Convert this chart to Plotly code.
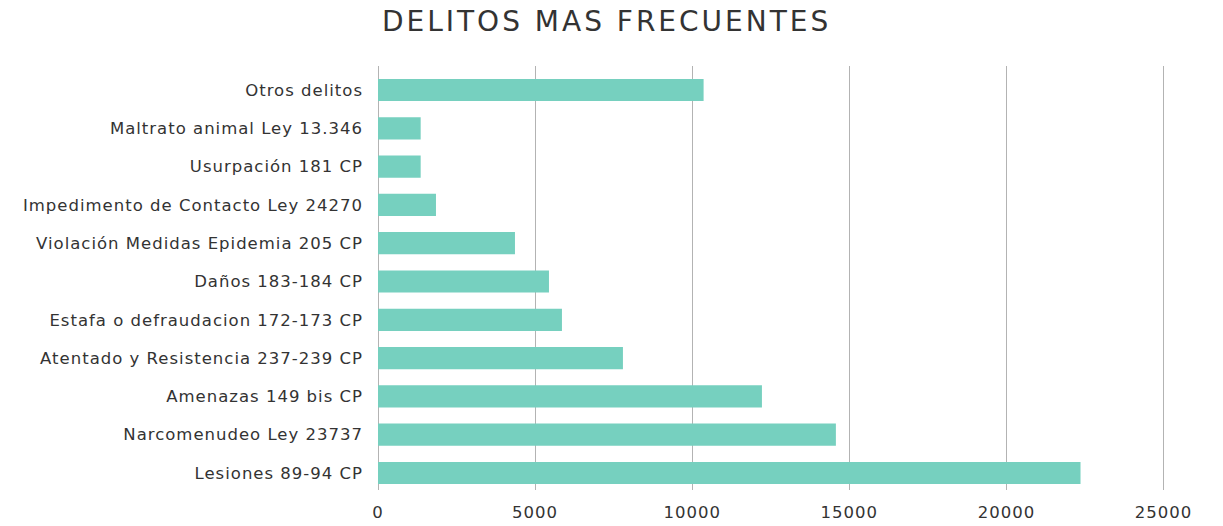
import plotly.graph_objects as go

# Most frequent offences (count of cases)
categories = [
    "Lesiones 89-94 CP",
    "Narcomenudeo Ley 23737",
    "Amenazas 149 bis CP",
    "Atentado y Resistencia 237-239 CP",
    "Estafa o defraudacion 172-173 CP",
    "Daños 183-184 CP",
    "Violación Medidas Epidemia 205 CP",
    "Impedimento de Contacto Ley 24270",
    "Usurpación 181 CP",
    "Maltrato animal Ley 13.346",
    "Otros delitos",
]
counts = [22357, 14572, 12218, 7795, 5854, 5441, 4359, 1845, 1358, 1358, 10362]
x_ticks = [0, 5000, 10000, 15000, 20000, 25000]

BAR_COLOR = "#76d0bf"
TEXT_COLOR = "#333333"
GRID_COLOR = "#b3b3b3"
FONT = "DejaVu Sans, sans-serif"


def spaced(text, px):
    """Wrap a label so it is drawn with extra letter spacing."""
    return f'<span style="letter-spacing:{px}px">{text}</span>'


fig = go.Figure(
    go.Bar(
        x=counts,
        y=categories,
        orientation="h",
        marker=dict(color=BAR_COLOR, line=dict(width=0)),
        hoverinfo="x+y",
    )
)

fig.update_layout(
    width=1223,
    height=526,
    margin=dict(l=378, r=50, t=66, b=36),
    paper_bgcolor="white",
    plot_bgcolor="white",
    bargap=0.42,
    showlegend=False,
    font=dict(family=FONT, color=TEXT_COLOR),
    title=dict(
        text=spaced("DELITOS MAS FRECUENTES", 3),
        x=0.496,
        xanchor="center",
        y=0.96,
        yanchor="middle",
        font=dict(family=FONT, size=28, color=TEXT_COLOR),
    ),
)

fig.update_xaxes(
    range=[0, 25300],
    tickvals=x_ticks,
    ticktext=[spaced(str(v), 1) for v in x_ticks],
    showgrid=True,
    gridcolor=GRID_COLOR,
    gridwidth=1,
    zeroline=True,
    zerolinecolor=GRID_COLOR,
    zerolinewidth=1,
    showline=False,
    tickfont=dict(family=FONT, size=16.5, color=TEXT_COLOR),
    ticks="",
    ticklabelstandoff=10,
    automargin=False,
    fixedrange=True,
)

fig.update_yaxes(
    categoryorder="array",
    categoryarray=categories,
    tickvals=categories,
    ticktext=[spaced(c, 1) for c in categories],
    range=[-0.444, 10.627],
    showgrid=False,
    showline=False,
    ticks="",
    tickfont=dict(family=FONT, size=16.5, color=TEXT_COLOR),
    ticklabelstandoff=14,
    automargin=False,
    fixedrange=True,
)

fig.write_html("out.html")
